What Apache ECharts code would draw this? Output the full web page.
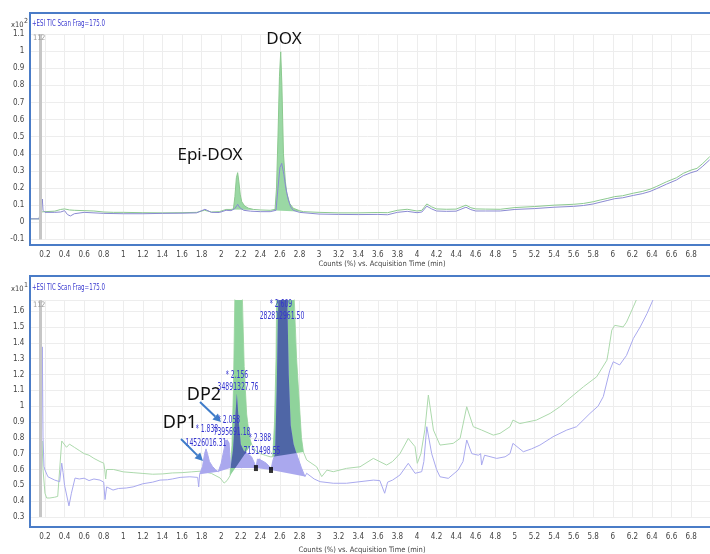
<!DOCTYPE html>
<html>
<head>
<meta charset="utf-8">
<script src="https://cdn.jsdelivr.net/npm/echarts@6/dist/echarts.min.js"></script>
<style>
  html, body { margin: 0; padding: 0; background: #fff; }
  #chart { width: 710px; height: 554px; }
</style>
</head>
<body>
<div id="chart"></div>
<script>
// upper trace (x10^2), [time, counts]
var topGreen = [[0.05,0.02],[0.14,0.02],[0.15,0.06],[0.17,0.07],[0.2,0.062],[0.3,0.065],[0.36,0.075],[0.4,0.078],[0.45,0.072],[0.5,0.07],[0.6,0.068],[0.7,0.066],[0.8,0.06],[0.9,0.058],[1.0,0.058],[1.2,0.056],[1.4,0.055],[1.6,0.056],[1.75,0.058],[1.83,0.07],[1.9,0.06],[1.98,0.062],[2.05,0.075],[2.1,0.075],[2.125,0.078],[2.14,0.15],[2.155,0.26],[2.168,0.29],[2.18,0.24],[2.195,0.16],[2.21,0.12],[2.24,0.095],[2.28,0.082],[2.33,0.075],[2.4,0.072],[2.5,0.07],[2.55,0.075],[2.565,0.2],[2.58,0.5],[2.595,0.85],[2.608,0.996],[2.62,0.8],[2.636,0.4],[2.655,0.24],[2.67,0.17],[2.7,0.11],[2.736,0.082],[2.8,0.068],[2.84,0.062],[3.0,0.058],[3.2,0.055],[3.4,0.055],[3.6,0.057],[3.7,0.056],[3.8,0.07],[3.9,0.076],[4.0,0.066],[4.05,0.07],[4.1,0.107],[4.15,0.09],[4.2,0.078],[4.3,0.076],[4.4,0.077],[4.5,0.1],[4.55,0.085],[4.6,0.078],[4.7,0.077],[4.85,0.076],[5.0,0.086],[5.2,0.092],[5.4,0.1],[5.6,0.105],[5.7,0.11],[5.8,0.12],[5.87,0.13],[5.95,0.14],[6.02,0.15],[6.1,0.155],[6.21,0.17],[6.3,0.18],[6.38,0.193],[6.45,0.21],[6.55,0.237],[6.65,0.26],[6.72,0.286],[6.8,0.305],[6.86,0.315],[6.92,0.344],[6.99,0.383]];
var topBlue = [[0.05,0.02],[0.14,0.02],[0.15,0.05],[0.173,0.136],[0.18,0.07],[0.2,0.058],[0.3,0.058],[0.36,0.06],[0.4,0.068],[0.43,0.045],[0.46,0.037],[0.5,0.05],[0.6,0.058],[0.8,0.052],[1.0,0.05],[1.2,0.05],[1.4,0.052],[1.6,0.053],[1.75,0.055],[1.834,0.076],[1.9,0.058],[1.98,0.057],[2.05,0.07],[2.1,0.068],[2.14,0.08],[2.168,0.105],[2.19,0.085],[2.23,0.07],[2.3,0.065],[2.4,0.062],[2.5,0.062],[2.56,0.07],[2.58,0.2],[2.6,0.32],[2.618,0.344],[2.64,0.28],[2.66,0.2],[2.686,0.13],[2.71,0.09],[2.736,0.07],[2.8,0.058],[3.0,0.048],[3.2,0.046],[3.4,0.045],[3.6,0.046],[3.7,0.044],[3.8,0.058],[3.9,0.064],[4.0,0.056],[4.05,0.06],[4.1,0.094],[4.15,0.078],[4.2,0.066],[4.3,0.064],[4.4,0.065],[4.5,0.088],[4.55,0.074],[4.6,0.066],[4.7,0.066],[4.85,0.066],[5.0,0.075],[5.2,0.08],[5.4,0.088],[5.6,0.093],[5.7,0.098],[5.8,0.107],[5.87,0.117],[5.95,0.128],[6.02,0.138],[6.1,0.143],[6.21,0.157],[6.3,0.167],[6.38,0.18],[6.45,0.197],[6.55,0.223],[6.65,0.247],[6.72,0.272],[6.8,0.29],[6.86,0.3],[6.92,0.328],[6.99,0.365]];

// lower trace (x10^1)
var botGreen = [[0.16,0.6],[0.17,0.78],[0.18,0.6],[0.2,0.45],[0.217,0.42],[0.25,0.42],[0.3,0.425],[0.33,0.43],[0.35,0.6],[0.371,0.78],[0.39,0.785],[0.42,0.74],[0.45,0.76],[0.47,0.77],[0.5,0.74],[0.55,0.72],[0.6,0.7],[0.65,0.69],[0.7,0.67],[0.762,0.65],[0.8,0.64],[0.81,0.6],[0.82,0.54],[0.83,0.6],[0.9,0.6],[1.0,0.585],[1.1,0.58],[1.2,0.575],[1.3,0.57],[1.4,0.572],[1.5,0.578],[1.6,0.58],[1.7,0.585],[1.8,0.59],[1.9,0.575],[1.99,0.546],[2.03,0.514],[2.06,0.53],[2.09,0.56],[2.11,0.75],[2.125,1.1],[2.14,1.72],[2.215,1.72],[2.235,1.25],[2.26,0.95],[2.29,0.8],[2.31,0.76],[2.35,0.72],[2.4,0.7],[2.45,0.69],[2.5,0.68],[2.526,0.68],[2.545,0.9],[2.56,1.3],[2.567,1.72],[2.744,1.72],[2.77,1.3],[2.8,1.0],[2.82,0.8],[2.84,0.71],[2.873,0.66],[2.975,0.617],[3.027,0.555],[3.08,0.596],[3.145,0.586],[3.28,0.607],[3.418,0.617],[3.554,0.67],[3.69,0.628],[3.75,0.65],[3.826,0.7],[3.911,0.796],[3.98,0.744],[4.003,0.639],[4.04,0.7],[4.08,0.85],[4.116,1.07],[4.168,0.849],[4.235,0.754],[4.37,0.765],[4.44,0.796],[4.508,0.996],[4.575,0.87],[4.66,0.849],[4.78,0.817],[4.848,0.828],[4.95,0.87],[4.98,0.912],[5.05,0.89],[5.22,0.912],[5.36,0.954],[5.46,0.996],[5.56,1.05],[5.7,1.122],[5.835,1.185],[5.94,1.29],[5.955,1.343],[5.99,1.48],[6.02,1.51],[6.106,1.5],[6.14,1.53],[6.21,1.627],[6.24,1.67]];
var botBlue = [[0.16,0.55],[0.173,1.374],[0.18,0.8],[0.19,0.62],[0.2,0.597],[0.23,0.554],[0.3,0.533],[0.35,0.523],[0.371,0.64],[0.385,0.58],[0.4,0.5],[0.445,0.37],[0.47,0.45],[0.507,0.546],[0.55,0.54],[0.6,0.545],[0.65,0.53],[0.7,0.54],[0.762,0.533],[0.8,0.52],[0.813,0.41],[0.83,0.49],[0.895,0.47],[0.95,0.48],[1.03,0.483],[1.1,0.49],[1.2,0.51],[1.3,0.52],[1.375,0.533],[1.45,0.535],[1.5,0.54],[1.58,0.55],[1.68,0.554],[1.76,0.55],[1.77,0.49],[1.78,0.57],[1.81,0.62],[1.83,0.7],[1.845,0.73],[1.86,0.7],[1.88,0.65],[1.91,0.62],[1.94,0.6],[1.97,0.585],[2.0,0.64],[2.03,0.73],[2.045,0.785],[2.065,0.79],[2.08,0.77],[2.09,0.68],[2.095,0.61],[2.12,0.72],[2.14,0.9],[2.16,1.08],[2.18,0.9],[2.2,0.76],[2.23,0.72],[2.27,0.7],[2.31,0.68],[2.34,0.64],[2.355,0.61],[2.37,0.665],[2.39,0.67],[2.42,0.655],[2.46,0.64],[2.49,0.62],[2.509,0.597],[2.525,0.65],[2.55,0.7],[2.567,1.1],[2.583,1.72],[2.675,1.72],[2.69,1.2],[2.71,0.88],[2.74,0.76],[2.78,0.68],[2.82,0.61],[2.856,0.555],[2.873,0.576],[2.95,0.54],[3.01,0.523],[3.145,0.513],[3.28,0.513],[3.418,0.523],[3.554,0.533],[3.62,0.53],[3.67,0.45],[3.7,0.52],[3.75,0.533],[3.826,0.565],[3.911,0.639],[3.98,0.576],[4.048,0.586],[4.07,0.65],[4.1,0.87],[4.15,0.7],[4.2,0.6],[4.235,0.554],[4.32,0.544],[4.42,0.596],[4.47,0.65],[4.508,0.786],[4.56,0.7],[4.627,0.69],[4.65,0.7],[4.66,0.628],[4.69,0.69],[4.814,0.67],[4.9,0.68],[4.95,0.7],[4.98,0.765],[5.086,0.712],[5.17,0.73],[5.256,0.754],[5.39,0.807],[5.53,0.849],[5.63,0.87],[5.767,0.954],[5.85,1.0],[5.903,1.06],[5.97,1.227],[6.005,1.28],[6.07,1.26],[6.14,1.32],[6.21,1.427],[6.28,1.5],[6.35,1.585],[6.41,1.67]];

// integrated peak windows [start, end]
var topGreenPeaks = [[2.1, 2.4], [2.5, 2.84]];
var botGreenPeaks = [[2.09, 2.31], [2.526, 2.84]];
var botBluePeaks = [[1.78, 1.97], [1.97, 2.095], [2.095, 2.355], [2.355, 2.509], [2.509, 2.856]];
var overlapPeaks = [[2, 0], [4, 1]]; // [blue peak, green peak]
var integrationMarks = [[2.355, 0.609], [2.509, 0.597]];
var peakRT = ['* 1.838', '* 2.058', '* 2.156', '* 2.388', '* 2.609'];
var peakArea = ['14526016.31', '7395691.18', '34891327.76', '7151498.55', '282812961.50'];

var NARROW = '"Liberation Sans Narrow","DejaVu Sans Condensed",sans-serif';
var BIG = '"Noto Sans","Open Sans",sans-serif';

var chart = echarts.init(document.getElementById('chart'));

function slicePts(line, a, b) {
  return line.filter(function (p) { return p[0] >= a - 1e-9 && p[0] <= b + 1e-9; });
}
function toPx(pts, api, cs) {
  return pts.map(function (p) {
    var c = api.coord(p);
    c[1] = Math.max(cs.y, Math.min(cs.y + cs.height, c[1]));
    return c;
  });
}

function fillSeries(grid, line, ranges, color, z) {
  return {
    type: 'custom', xAxisIndex: grid, yAxisIndex: grid, z: z, silent: true,
    data: ranges.map(function (r, i) { return [r[0], i]; }),
    renderItem: function (params, api) {
      var r = ranges[params.dataIndex];
      return {
        type: 'polygon',
        shape: { points: toPx(slicePts(line, r[0], r[1]), api, params.coordSys) },
        style: { fill: color }
      };
    }
  };
}

function lineSeries(grid, data, color, z, grey) {
  var s = {
    type: 'line', xAxisIndex: grid, yAxisIndex: grid, data: data, z: z,
    showSymbol: false, symbol: 'none', silent: true,
    lineStyle: { color: color, width: 1 }
  };
  if (grey) {
    s.markLine = {
      silent: true, symbol: 'none', label: { show: false },
      lineStyle: { color: '#c6c6c6', width: 3, type: 'solid' },
      data: [{ xAxis: 0.152 }]
    };
  }
  return s;
}

function xAx(grid, margin) {
  return {
    gridIndex: grid, type: 'value', min: 0, max: 6.993, interval: 0.2,
    axisLine: { show: false }, axisTick: { show: false },
    splitLine: { lineStyle: { color: '#ededed' } },
    axisLabel: { showMinLabel: false, showMaxLabel: false, margin: margin,
      fontFamily: NARROW, fontSize: 8, color: '#444' }
  };
}
function yAx(grid, min, max, showMax) {
  return {
    gridIndex: grid, type: 'value', min: min, max: max, interval: 0.1,
    axisLine: { show: false }, axisTick: { show: false },
    splitLine: { lineStyle: { color: '#ededed' } },
    axisLabel: { showMaxLabel: showMax, margin: 1, fontFamily: NARROW, fontSize: 8, color: '#444' }
  };
}

function txt(x, y, s, font, color, align, sx) {
  return { type: 'text', x: x, y: y, z: 200, scaleX: sx || 1,
    style: { text: s, font: font, fill: color, textAlign: align || 'center', textVerticalAlign: 'middle' } };
}
function arrow(x1, y1, x2, y2) {
  var a = Math.atan2(y2 - y1, x2 - x1), L = 8, W = 4;
  var bx = x2 - L * Math.cos(a), by = y2 - L * Math.sin(a);
  return [
    { type: 'line', z: 200, shape: { x1: x1, y1: y1, x2: bx, y2: by }, style: { stroke: '#3f7cc9', lineWidth: 2 } },
    { type: 'polygon', z: 200, shape: { points: [[x2, y2],
      [bx + W * Math.sin(a), by - W * Math.cos(a)], [bx - W * Math.sin(a), by + W * Math.cos(a)]] },
      style: { fill: '#3f7cc9' } }
  ];
}

var small = '7.5px ' + NARROW;
var head = '8.5px ' + NARROW;
var lab = '10px ' + NARROW;
var blueTxt = '#3535d0';
var graphics = [
  { type: 'rect', z: 150, shape: { x: 25, y: 30, width: 4, height: 215 }, style: { fill: '#fff' } },
  { type: 'rect', z: 150, shape: { x: 25, y: 296, width: 4, height: 230 }, style: { fill: '#fff' } },
  { type: 'rect', z: 160, shape: { x: 30, y: 13, width: 690, height: 232 }, style: { fill: 'none', stroke: '#4a7cc7', lineWidth: 2 } },
  { type: 'rect', z: 160, shape: { x: 30, y: 276, width: 690, height: 251 }, style: { fill: 'none', stroke: '#4a7cc7', lineWidth: 2 } },
  txt(11, 25, 'x10', small, '#444', 'left'), txt(24, 21, '2', '7px ' + NARROW, '#444', 'left'),
  txt(11, 289, 'x10', small, '#444', 'left'), txt(24, 285, '1', '7px ' + NARROW, '#444', 'left'),
  txt(32, 24, '+ESI TIC Scan Frag=175.0', head, '#3b3bd0', 'left', 0.72),
  txt(32, 288, '+ESI TIC Scan Frag=175.0', head, '#3b3bd0', 'left', 0.72),
  txt(33, 38, '11', small, '#999', 'left'), txt(41, 38, '2', small, '#999', 'left'),
  txt(33, 305, '11', small, '#999', 'left'), txt(41, 305, '2', small, '#999', 'left'),
  txt(382, 264, 'Counts (%) vs. Acquisition Time (min)', small, '#444'),
  txt(362, 550, 'Counts (%) vs. Acquisition Time (min)', small, '#444'),
  txt(284, 39, 'DOX', '17px ' + BIG, '#111'),
  txt(210, 155, 'Epi-DOX', '17px ' + BIG, '#111'),
  txt(204, 395, 'DP2', '18px ' + BIG, '#111'),
  txt(180, 423, 'DP1', '18px ' + BIG, '#111'),
  txt(207, 429, peakRT[0], lab, blueTxt, 'center', 0.68), txt(206, 443, peakArea[0], lab, blueTxt, 'center', 0.68),
  txt(229, 420, peakRT[1], lab, blueTxt, 'center', 0.68), txt(232, 432, peakArea[1], lab, blueTxt, 'center', 0.68),
  txt(237, 375, peakRT[2], lab, blueTxt, 'center', 0.68), txt(238, 387, peakArea[2], lab, blueTxt, 'center', 0.68),
  txt(260, 438, peakRT[3], lab, blueTxt, 'center', 0.68), txt(262, 451, peakArea[3], lab, blueTxt, 'center', 0.68),
  txt(281, 304, peakRT[4], lab, blueTxt, 'center', 0.68), txt(282, 316, peakArea[4], lab, blueTxt, 'center', 0.68)
].concat(arrow(200, 402, 221, 422), arrow(181, 439, 203, 461));

var series = [
  fillSeries(0, topGreen, topGreenPeaks, '#9ad8a4', 1),
  lineSeries(0, topGreen, '#8cc98f', 2, true),
  lineSeries(0, topBlue, '#8a8ad2', 3),
  lineSeries(1, botGreen, '#acd9ac', 1, true),
  lineSeries(1, botBlue, '#a9a9ee', 1),
  fillSeries(1, botGreen, botGreenPeaks, '#8fd39b', 2),
  fillSeries(1, botBlue, botBluePeaks, '#aaa8ee', 3),
  {
    type: 'custom', xAxisIndex: 1, yAxisIndex: 1, z: 4, silent: true,
    data: overlapPeaks,
    renderItem: function (params, api) {
      var o = overlapPeaks[params.dataIndex];
      var b = botBluePeaks[o[0]], g = botGreenPeaks[o[1]];
      return {
        type: 'polygon',
        shape: { points: toPx(slicePts(botBlue, b[0], b[1]), api, params.coordSys) },
        style: { fill: '#4f66a6' },
        clipPath: { type: 'polygon', shape: { points: toPx(slicePts(botGreen, g[0], g[1]), api, params.coordSys) } }
      };
    }
  },
  {
    type: 'scatter', xAxisIndex: 1, yAxisIndex: 1, z: 5, silent: true,
    data: integrationMarks, symbol: 'rect', symbolSize: [4, 6],
    itemStyle: { color: '#000' }
  }
];

chart.setOption({
  animation: false,
  grid: [
    { left: 25.4, top: 34, width: 684.6, height: 205.4 },
    { left: 25.4, top: 300, width: 684.6, height: 217 }
  ],
  xAxis: [xAx(0, 12), xAx(1, 16)],
  yAxis: [yAx(0, -0.1, 1.1, true), yAx(1, 0.3, 1.67, false)],
  series: series,
  graphic: graphics
});
</script>
</body>
</html>
